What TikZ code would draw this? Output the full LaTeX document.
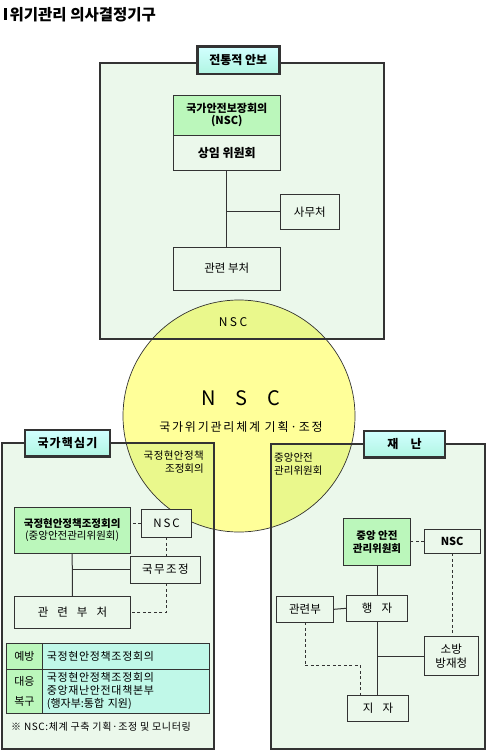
\documentclass[tikz,border=0pt]{standalone}
\usepackage{fontspec}
\setmainfont{Noto Sans CJK KR}
\usetikzlibrary{positioning,calc}
\definecolor{panelbg}{RGB}{235,248,235}
\definecolor{headgreen}{RGB}{187,247,187}
\definecolor{nscyellow}{RGB}{255,255,153}
\definecolor{nscmix}{RGB}{234,248,140}
\definecolor{tagtop}{RGB}{210,255,255}
\definecolor{tagbot}{RGB}{176,245,226}
\definecolor{cellcyan}{RGB}{192,248,232}
\definecolor{inkgray}{RGB}{51,51,51}
\newcommand{\gapped}[2][8]{{\addfontfeature{LetterSpace=#1}#2}}
\tikzset{
  wh/.style 2 args={minimum width=#1pt,minimum height=#2pt},
  panel/.style={rectangle,fill=panelbg,draw=none,inner sep=0pt,outer sep=0pt},
  panelline/.style={draw=inkgray,line width=2pt},
  tagbox/.style={rectangle,top color=tagtop,bottom color=tagbot,draw=inkgray,
    line width=2.5pt,inner sep=0pt,font=\fontsize{12}{14}\selectfont\bfseries},
  orgbox/.style={rectangle,fill=panelbg,draw=inkgray,line width=1pt,
    inner sep=1pt,outer sep=0pt,align=center,font=\fontsize{11.5}{13}\selectfont},
  headbox/.style={orgbox,fill=headgreen,
    font=\fontsize{10.5}{12.5}\selectfont\bfseries},
  cell/.style={rectangle,draw=inkgray,line width=1.2pt,inner sep=0pt,
    outer sep=0pt,font=\fontsize{11}{13}\selectfont},
  circtext/.style={inner sep=0pt,font=\fontsize{10.5}{12.5}\selectfont},
  link/.style={draw=inkgray,line width=1pt},
  dlink/.style={link,dash pattern=on 3pt off 2.5pt}
}

\begin{document}
\begin{tikzpicture}[x=1pt,y=-1pt]
\useasboundingbox (0,0) rectangle (486,751);
\fill[white] (0,0) rectangle (486,751);
% ---------------- title ----------------
\fill[black] (4,7.7) rectangle (6.8,20.3);
\node[anchor=west,inner sep=0pt,font=\fontsize{15.5}{17}\selectfont\bfseries]
  (title) at (9.5,14.3) {위기관리 의사결정기구};
% ---------------- panels and NSC circle ----------------
\node[panel,wh={284.5}{276.3}] (secpanel) at (241.75,200.85) {};
\node[panel,wh={212.3}{306.6}] (natpanel) at (107.85,596) {};
\node[panel,wh={214.5}{305.3}] (dispanel) at (377.75,596.65) {};
\coordinate (nschub) at (239,416);
\fill[nscyellow] (nschub) circle[radius=116];
\begin{scope}
  \clip (secpanel.north west) rectangle (secpanel.south east)
        (natpanel.north west) rectangle (natpanel.south east)
        (dispanel.north west) rectangle (dispanel.south east);
  \fill[nscmix] (nschub) circle[radius=116];
\end{scope}
\draw[inkgray,line width=0.7pt] (nschub) circle[radius=116];
\foreach \p in {secpanel,natpanel,dispanel}
  \draw[panelline] (\p.north west) rectangle (\p.south east);
\node[inner sep=0pt,font=\fontsize{12}{14}\selectfont] (nsctop) at (233,322)
  {N\hspace{2.5pt}S\hspace{2.5pt}C};
\node[inner sep=0pt,font=\fontsize{20}{22}\selectfont] (nscbig) at (241,398)
  {N\hspace{20pt}S\hspace{20pt}C};
\node[inner sep=0pt,font=\fontsize{12}{14}\selectfont] (nscrole) at (241,426.7)
  {\gapped[15]{국가위기관리체계 기획·조정}};
\node[circtext,align=right,anchor=north east] (natcirc) at (204,451)
  {\gapped[4]{국정현안정책}\\조정회의};
\node[circtext,align=left,anchor=north west] (discirc) at (274,453)
  {중앙안전\\관리위원회};
% ---------------- (a) 전통적 안보 ----------------
\node[tagbox,wh={82}{27.3}] (sectag) at (238.3,60.35) {전통적 안보};
\node[headbox,wh={107}{40},font=\fontsize{11}{12}\selectfont\bfseries]
  (sechead) at (226.8,115.3) {국가안전보장회의\\(NSC)};
\node[orgbox,wh={107}{35.7},below=0pt of sechead,
  font=\fontsize{12}{14}\selectfont\bfseries] (secstand) {상임 위원회};
\node[orgbox,wh={59}{35}] (secoffice) at (309.8,211.8) {사무처};
\node[orgbox,wh={107}{42.7}] (secdept) at (226.8,268.65) {관련 부처};
\draw[link] (secstand.south) -- (secdept.north);
\draw[link] (secstand.south |- secoffice.west) -- (secoffice.west);
% ---------------- (b) 국가핵심기 ----------------
\node[tagbox,wh={85}{26.7}] (nattag) at (67.5,443.35) {\gapped[10]{국가핵심기}};
\node[headbox,wh={115.7}{46}] (nathead) at (72.15,530.3)
  {국정현안정책조정회의\\{\mdseries(중앙안전관리위원회)}};
\node[orgbox,wh={50.4}{28}] (natnsc) at (166.5,523.3) {N\,S\,C};
\node[orgbox,wh={70.7}{27.3}] (natcoord) at (165.35,569.65) {\gapped[12]{국무조정}};
\node[orgbox,wh={116.4}{32.3}] (natdept) at (72.5,612.15)
  {관\hspace{9pt}련\hspace{9pt}부\hspace{9pt}처};
\draw[dlink] (natnsc.west) -- (natnsc.west -| nathead.east);
\draw[dlink] (natnsc.south) -- (natnsc.south |- natcoord.north);
\draw[link] (nathead.south) -- (natdept.north);
\draw[link] (nathead.south |- natcoord.west) -- (natcoord.west);
\draw[dlink] (natcoord.south -| natnsc.south) |- (natdept.east);
% table
\node[cell,fill=headgreen,wh={35.6}{26}] (prevlab) at (24.5,656.3) {예방};
\node[cell,fill=cellcyan,wh={167}{26},text width=158pt,inner xsep=4.5pt,
  align=left] (prevtxt) at (125.8,656.3) {\gapped[6]{국정현안정책조정회의}};
\node[cell,fill=headgreen,wh={35.6}{44},align=center] (resplab) at (24.5,691.3)
  {대응\\[7pt]복구};
\node[cell,fill=cellcyan,wh={167}{44},text width=158pt,inner xsep=4.5pt,
  align=left] (resptxt) at (125.8,691.3)
  {\gapped[6]{국정현안정책조정회의}\\\gapped[6]{중앙재난안전대책본부}\\(행자부:통합 지원)};
\node[anchor=west,inner sep=0pt,font=\fontsize{10}{12}\selectfont] (tablenote)
  at (11,726.7) {\gapped[6]{※ NSC:체계 구축 기획·조정 및 모니터링}};
% ---------------- (c) 재난 ----------------
\node[tagbox,wh={81}{26.3}] (distag) at (404.5,444.15) {재\hspace{12pt}난};
\node[headbox,wh={67.7}{46.6}] (dishead) at (377,542) {중앙 안전\\관리위원회};
\node[orgbox,wh={55.7}{24},font=\fontsize{11}{13}\selectfont\bfseries]
  (disnsc) at (452.15,541.3) {NSC};
\node[orgbox,wh={61.6}{26}] (dishome) at (377,608.3) {행\hspace{9pt}자};
\node[orgbox,wh={56.6}{25.3}] (disdept) at (305,609.35) {관련부};
\node[orgbox,wh={54}{38.6},font=\fontsize{11.5}{14}\selectfont] (disfire)
  at (451.3,656) {소방\\방재청};
\node[orgbox,wh={61.7}{26.4}] (dislocal) at (378,708.5) {지\hspace{9pt}자};
\coordinate (localbend) at (360.7,665.7);
\draw[dlink] (disnsc.west) -- (disnsc.west -| dishead.east);
\draw[link] (dishead.south) -- (dishome.north);
\draw[link] (disdept.east) -- (dishome.west);
\draw[link] (dishome.south) -- (dishome.south |- dislocal.north);
\draw[link] (dishome.south |- disfire.west) -- (disfire.west);
\draw[dlink] (disnsc.south) -- (disnsc.south |- disfire.north);
\draw[dlink] (disdept.south) |- (localbend) -- (localbend |- dislocal.north);
\end{tikzpicture}
\end{document}
